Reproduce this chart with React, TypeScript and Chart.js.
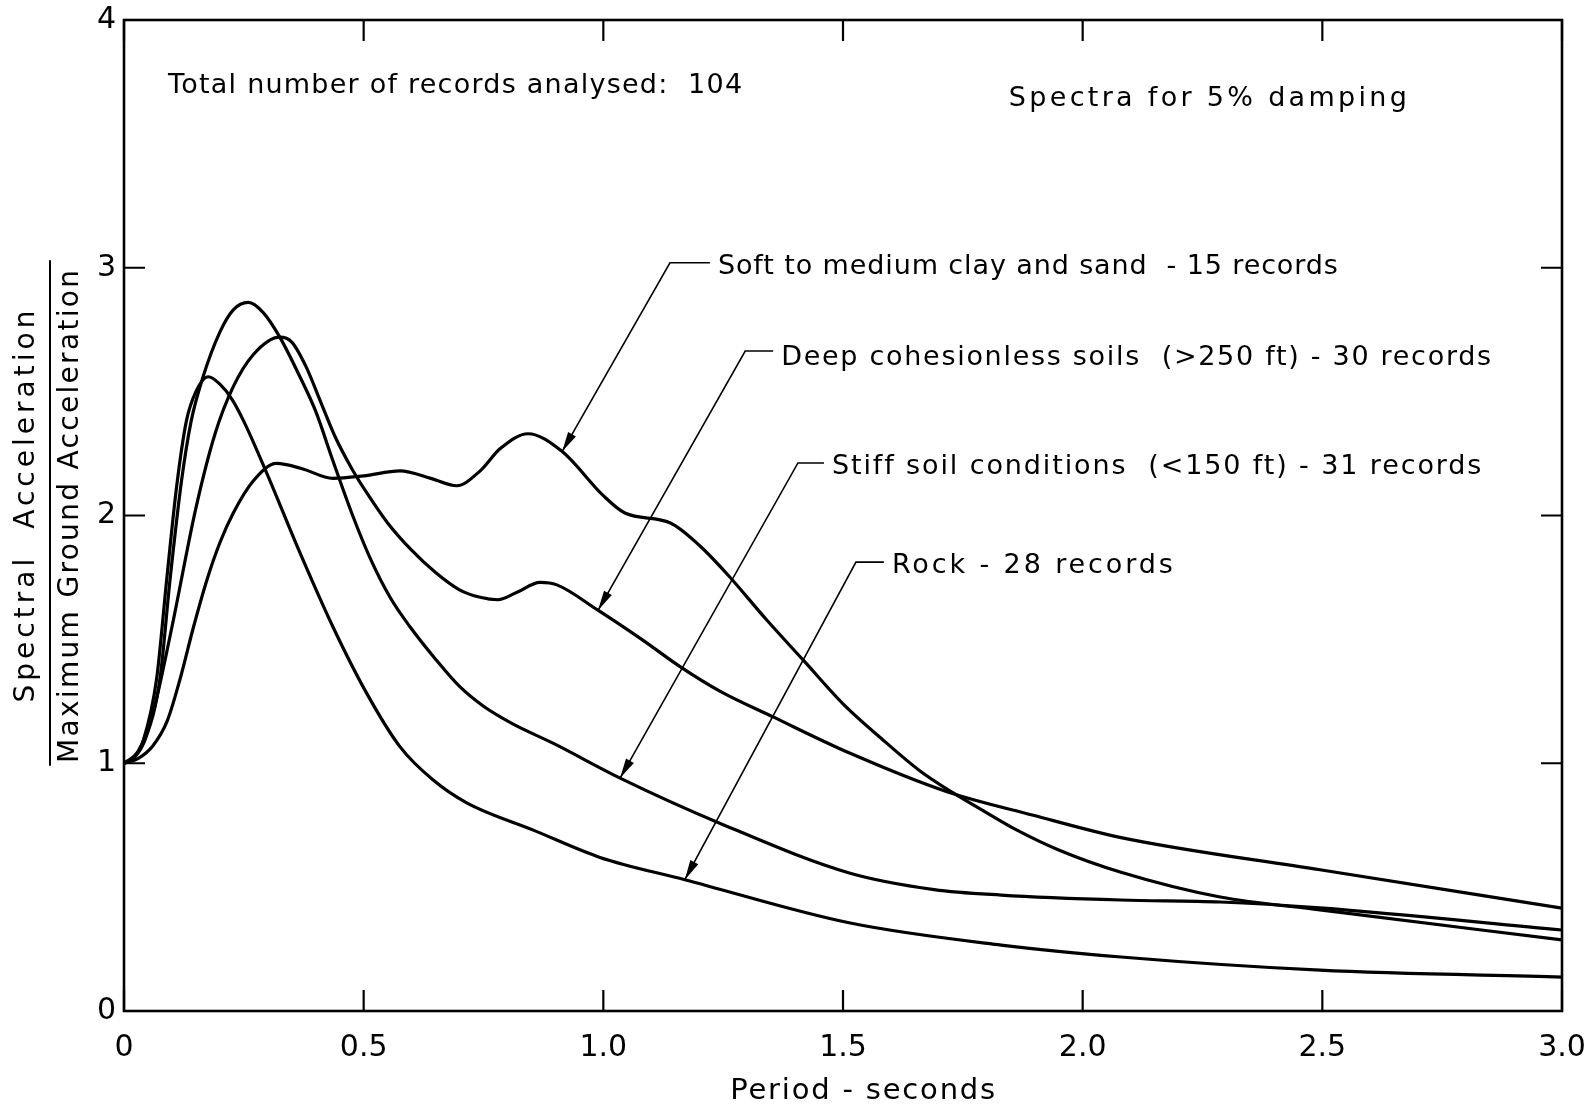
import React, { useEffect, useRef } from "react";
import { Chart, registerables } from "chart.js";

Chart.register(...registerables);

// ---------------- data ----------------
const rockPeriods = [0, 0.02, 0.04, 0.068, 0.089, 0.11, 0.13, 0.15, 0.176, 0.2, 0.225, 0.25, 0.298, 0.367, 0.436, 0.507, 0.576, 0.645, 0.715, 0.854, 0.993, 1.17, 1.515, 1.83, 2.08, 2.495, 3.0];
const rockValues = [1.0, 1.02, 1.09, 1.34, 1.74, 2.12, 2.38, 2.5, 2.56, 2.53, 2.47, 2.38, 2.17, 1.85, 1.55, 1.28, 1.066, 0.932, 0.84, 0.73, 0.62, 0.53, 0.355, 0.266, 0.218, 0.165, 0.137];

const stiffPeriods = [0, 0.02, 0.045, 0.075, 0.096, 0.12, 0.14, 0.165, 0.2, 0.228, 0.259, 0.29, 0.325, 0.367, 0.4, 0.436, 0.475, 0.513, 0.555, 0.597, 0.65, 0.7, 0.75, 0.81, 0.896, 1.035, 1.244, 1.515, 1.69, 1.83, 2.08, 2.287, 2.495, 3.0];
const stiffValues = [1.0, 1.02, 1.1, 1.34, 1.74, 2.14, 2.38, 2.56, 2.74, 2.83, 2.86, 2.82, 2.72, 2.56, 2.42, 2.22, 2.01, 1.83, 1.67, 1.55, 1.42, 1.31, 1.23, 1.16, 1.08, 0.94, 0.757, 0.556, 0.49, 0.468, 0.448, 0.44, 0.416, 0.327];

const deepPeriods = [0, 0.03, 0.06, 0.1, 0.15, 0.19, 0.228, 0.27, 0.325, 0.35, 0.38, 0.41, 0.44, 0.475, 0.507, 0.55, 0.6, 0.65, 0.7, 0.743, 0.78, 0.82, 0.868, 0.903, 0.987, 1.08, 1.16, 1.244, 1.354, 1.515, 1.717, 1.897, 2.08, 2.495, 3.0];
const deepValues = [1.0, 1.05, 1.2, 1.55, 2.03, 2.33, 2.52, 2.65, 2.72, 2.7, 2.6, 2.46, 2.32, 2.19, 2.09, 1.97, 1.86, 1.77, 1.7, 1.67, 1.66, 1.69, 1.73, 1.72, 1.62, 1.5, 1.39, 1.29, 1.187, 1.04, 0.885, 0.79, 0.7, 0.57, 0.415];

const softPeriods = [0, 0.03, 0.06, 0.09, 0.117, 0.145, 0.173, 0.2, 0.228, 0.27, 0.318, 0.37, 0.436, 0.5, 0.576, 0.64, 0.694, 0.743, 0.785, 0.843, 0.913, 1.0, 1.045, 1.14, 1.2, 1.26, 1.34, 1.42, 1.5, 1.58, 1.66, 1.73, 1.8, 1.863, 1.95, 2.08, 2.287, 2.495, 3.0];
const softValues = [1.0, 1.02, 1.07, 1.17, 1.34, 1.55, 1.74, 1.89, 2.01, 2.14, 2.21, 2.19, 2.15, 2.16, 2.18, 2.15, 2.12, 2.18, 2.27, 2.33, 2.26, 2.08, 2.01, 1.97, 1.88, 1.76, 1.58, 1.41, 1.24, 1.1, 0.97, 0.88, 0.8, 0.73, 0.65, 0.56, 0.46, 0.408, 0.287];

const seriesNames = [
  "Soft to medium clay and sand  - 15 records",
  "Deep cohesionless soils  (>250 ft) - 30 records",
  "Stiff soil conditions  (<150 ft) - 31 records",
  "Rock - 28 records",
];

const xTickValues = [0, 0.5, 1, 1.5, 2, 2.5, 3];
const xTickLabels = ["0", "0.5", "1.0", "1.5", "2.0", "2.5", "3.0"];
const yTickValues = [0, 1, 2, 3, 4];
const yTickLabels = ["0", "1", "2", "3", "4"];

const xTitle = "Period - seconds";
const yTitleTop = "Spectral  Acceleration";
const yTitleBottom = "Maximum Ground Acceleration";
const noteRecords = "Total number of records analysed:  104";
const noteDamping = "Spectra for 5% damping";

// ---------------- layout / styling (not data) ----------------
const FONT = "'DejaVu Sans', 'Liberation Sans', sans-serif";

// callouts: series index, period where the arrow touches, elbow point (data units), text start period, text width
const callouts = [
  { series: 0, tipT: 0.914, elbowT: 1.139, elbowY: 3.02, textT: 1.239, width: 620, dy: 4 },
  { series: 1, tipT: 0.989, elbowT: 1.296, elbowY: 2.664, textT: 1.371, width: 710, dy: 7 },
  { series: 2, tipT: 1.035, elbowT: 1.406, elbowY: 2.212, textT: 1.477, width: 649, dy: 4 },
  { series: 3, tipT: 1.17, elbowT: 1.527, elbowY: 1.812, textT: 1.602, width: 281, dy: 4 },
];

const notes = [
  { text: noteRecords, t: 0.092, y: 3.735, width: 574 },
  { text: noteDamping, t: 1.846, y: 3.68, width: 398 },
];

const seriesList = [
  { periods: softPeriods, values: softValues },
  { periods: deepPeriods, values: deepValues },
  { periods: stiffPeriods, values: stiffValues },
  { periods: rockPeriods, values: rockValues },
];

function interp(periods: number[], values: number[], t: number) {
  for (let i = 1; i < periods.length; i++) {
    if (t <= periods[i]) {
      const f = (t - periods[i - 1]) / (periods[i] - periods[i - 1]);
      return values[i - 1] + f * (values[i] - values[i - 1]);
    }
  }
  return values[values.length - 1];
}

function drawSpaced(ctx: CanvasRenderingContext2D, text: string, x: number, y: number, width: number) {
  (ctx as any).letterSpacing = "0px";
  const w0 = ctx.measureText(text).width;
  const n = Array.from(text).length;
  const ls = n > 1 ? (width - w0) / (n - 1) : 0;
  (ctx as any).letterSpacing = ls + "px";
  ctx.fillText(text, x, y);
  (ctx as any).letterSpacing = "0px";
}

const decorPlugin = {
  id: "decor",
  afterDraw(chart: any) {
    const { ctx, chartArea: a, scales } = chart;
    const xs = scales.x;
    const ys = scales.y;
    ctx.save();
    ctx.strokeStyle = "#000";
    ctx.fillStyle = "#000";

    // frame
    ctx.lineWidth = 2.6;
    ctx.strokeRect(a.left, a.top, a.right - a.left, a.bottom - a.top);

    // inward ticks
    const L = 21;
    ctx.lineWidth = 2.2;
    ctx.beginPath();
    for (const v of xTickValues) {
      const px = xs.getPixelForValue(v);
      ctx.moveTo(px, a.bottom);
      ctx.lineTo(px, a.bottom - L);
      ctx.moveTo(px, a.top);
      ctx.lineTo(px, a.top + L);
    }
    for (const v of yTickValues) {
      const py = ys.getPixelForValue(v);
      ctx.moveTo(a.left, py);
      ctx.lineTo(a.left + L, py);
      ctx.moveTo(a.right, py);
      ctx.lineTo(a.right - L, py);
    }
    ctx.stroke();

    // x-axis title
    ctx.font = `29px ${FONT}`;
    ctx.textBaseline = "middle";
    ctx.textAlign = "left";
    const xtW = 265;
    drawSpaced(ctx, xTitle, xs.getPixelForValue(1.541) - xtW / 2, a.bottom + 80, xtW);

    // y-axis title as a fraction
    ctx.font = `28px ${FONT}`;
    const cy = (a.top + a.bottom) / 2;
    const titles = [
      { text: yTitleTop, x: a.left - 97, cy: cy - 9, width: 392 },
      { text: yTitleBottom, x: a.left - 53, cy: cy + 1, width: 493 },
    ];
    for (const t of titles) {
      ctx.save();
      ctx.translate(t.x, t.cy);
      ctx.rotate(-Math.PI / 2);
      drawSpaced(ctx, t.text, -t.width / 2, 0, t.width);
      ctx.restore();
    }
    ctx.lineWidth = 2;
    ctx.beginPath();
    ctx.moveTo(a.left - 74, ys.getPixelForValue(3.03));
    ctx.lineTo(a.left - 74, ys.getPixelForValue(0.99));
    ctx.stroke();

    // notes
    ctx.font = `27px ${FONT}`;
    for (const n of notes) {
      drawSpaced(ctx, n.text, xs.getPixelForValue(n.t), ys.getPixelForValue(n.y), n.width);
    }

    // callouts with leader arrows
    for (const c of callouts) {
      const s = seriesList[c.series];
      const tipX = xs.getPixelForValue(c.tipT);
      const tipY = ys.getPixelForValue(interp(s.periods, s.values, c.tipT));
      const ex = xs.getPixelForValue(c.elbowT);
      const ey = ys.getPixelForValue(c.elbowY);
      const tx = xs.getPixelForValue(c.textT);
      ctx.lineWidth = 1.6;
      ctx.beginPath();
      ctx.moveTo(tx - 8, ey);
      ctx.lineTo(ex, ey);
      ctx.lineTo(tipX, tipY);
      ctx.stroke();
      // arrow head
      const dx = tipX - ex;
      const dy = tipY - ey;
      const len = Math.hypot(dx, dy);
      const ux = dx / len;
      const uy = dy / len;
      const hl = 20;
      const hw = 4.5;
      const bx = tipX - ux * hl;
      const by = tipY - uy * hl;
      ctx.beginPath();
      ctx.moveTo(tipX, tipY);
      ctx.lineTo(bx - uy * hw, by + ux * hw);
      ctx.lineTo(bx + uy * hw, by - ux * hw);
      ctx.closePath();
      ctx.fill();
      ctx.font = `27px ${FONT}`;
      drawSpaced(ctx, seriesNames[c.series], tx, ey + c.dy, c.width);
    }
    ctx.restore();
  },
};

export default function App() {
  const ref = useRef<HTMLCanvasElement | null>(null);

  useEffect(() => {
    if (!ref.current) return;
    const datasets = seriesList.map((s, i) => ({
      label: seriesNames[i],
      data: s.periods.map((t, k) => ({ x: t, y: s.values[k] })),
      borderColor: "#000",
      borderWidth: 3.2,
      pointRadius: 0,
      fill: false,
      cubicInterpolationMode: "monotone" as const,
    }));

    const tickFont = { family: FONT, size: 30 };

    const chart = new Chart(ref.current, {
      type: "line",
      data: { datasets },
      plugins: [decorPlugin],
      options: {
        animation: false,
        responsive: true,
        maintainAspectRatio: false,
        layout: { padding: { left: 0, top: 20, right: 33, bottom: 0 } },
        plugins: { legend: { display: false }, tooltip: { enabled: false } },
        scales: {
          x: {
            type: "linear",
            min: 0,
            max: 3,
            afterBuildTicks: (scale: any) => {
              scale.ticks = xTickValues.map((v) => ({ value: v }));
            },
            afterFit: (scale: any) => {
              scale.height = 98;
              scale.paddingLeft = 0;
              scale.paddingRight = 0;
            },
            ticks: {
              color: "#000",
              font: tickFont,
              padding: 19,
              maxRotation: 0,
              autoSkip: false,
              callback: (v: any) => xTickLabels[xTickValues.indexOf(Number(v))] ?? "",
            },
            grid: { display: false, drawTicks: false },
            border: { display: false },
          },
          y: {
            type: "linear",
            min: 0,
            max: 4,
            afterBuildTicks: (scale: any) => {
              scale.ticks = yTickValues.map((v) => ({ value: v }));
            },
            afterFit: (scale: any) => {
              scale.width = 124;
              scale.paddingTop = 0;
              scale.paddingBottom = 0;
            },
            ticks: {
              color: "#000",
              font: tickFont,
              padding: 8,
              callback: (v: any) => yTickLabels[yTickValues.indexOf(Number(v))] ?? "",
            },
            grid: { display: false, drawTicks: false },
            border: { display: false },
          },
        },
      },
    });
    return () => chart.destroy();
  }, []);

  return (
    <div style={{ position: "fixed", left: 0, top: 0, width: "1595px", height: "1109px", background: "#fff" }}>
      <canvas ref={ref} />
    </div>
  );
}
